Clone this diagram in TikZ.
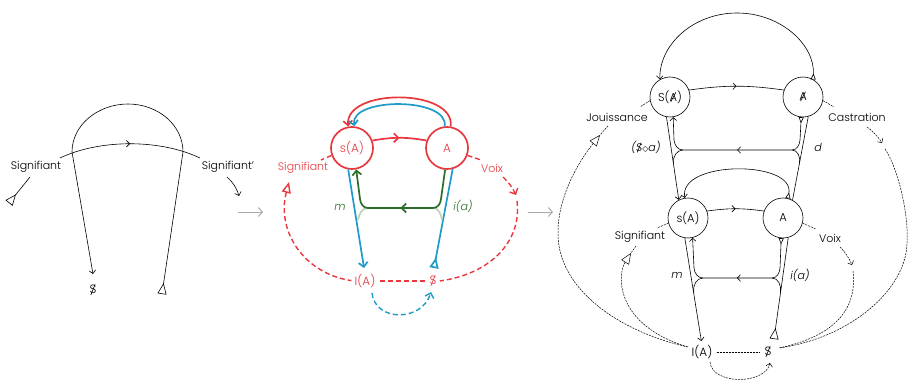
\documentclass[tikz,border=0pt]{standalone}
\usepackage{fontspec}
\setmainfont{Poppins}[UprightFont=* Light,ItalicFont=* Light Italic]
\newfontfamily\dvfont{DejaVu Sans}
\usetikzlibrary{arrows.meta,decorations.markings}
\definecolor{cred}{HTML}{E8383D}
\definecolor{cblue}{HTML}{1E9BC8}
\definecolor{cgreen}{HTML}{2B6E2B}
\definecolor{cgreenl}{HTML}{BCD3B7}
\definecolor{cgray}{HTML}{AAAAAA}
\newcommand\barS{\ooalign{S\cr\hidewidth\raisebox{-0.12em}{\rotatebox{68}{\rule{0.95em}{0.055em}}}\hidewidth\cr}}
\newcommand\barA{\ooalign{A\cr\hidewidth\raisebox{-0.05em}{\rotatebox{62}{\rule{0.92em}{0.055em}}}\hidewidth\cr}}
\tikzset{
  vv/.tip={Straight Barb[length=3.2pt,width=6.5pt]},
  vvb/.tip={Straight Barb[length=4.5pt,width=9pt]},
  tri/.tip={Triangle[open,length=11pt,width=9pt]},
  trir/.tip={Triangle[open,reversed,length=11pt,width=9pt]},
  trism/.tip={Triangle[open,reversed,length=6pt,width=5pt]},
  trib/.tip={Triangle[open,length=11pt,width=9pt]},
  trirb/.tip={Triangle[open,reversed,length=11pt,width=9pt]},
  midarr/.style={postaction={decorate},decoration={markings,mark=at position 0.5 with {\arrow{vv}}}},
  midarrb/.style={postaction={decorate},decoration={markings,mark=at position 0.5 with {\arrow{vvb}}}},
  lbl/.style={inner sep=0pt,font=\fontsize{11}{12}\selectfont},
  lblit/.style={inner sep=0pt,font=\fontsize{11}{12}\selectfont\itshape},
  cthree/.style={circle,draw,minimum size=40pt,inner sep=0pt,font=\fontsize{11.5}{12}\selectfont},
  ctwo/.style={circle,draw=cred,text=cred,line width=1.7pt,minimum size=42pt,inner sep=0pt,font=\fontsize{12}{12}\selectfont},
  bold/.style={line width=1.7pt},
  dsh/.style={dash pattern=on 2pt off 1pt,line width=0.5pt},
  dshb/.style={dash pattern=on 5pt off 3pt,line width=1.4pt},
  grayarr/.style={cgray,line width=1pt,-{Straight Barb[length=4pt,width=9pt]}}
}
\begin{document}
\begin{tikzpicture}[x=1pt,y=-1pt,line width=0.6pt]
\useasboundingbox (0,0) rectangle (909,382);
% ---------- panel 1 ----------
\node[lbl] (sig1) at (36,167) {Signifiant};
\node[lbl] (sig1p) at (228,167) {Signifiant'};
\node[lbl,font=\fontsize{12}{12}\selectfont] (S1) at (93,290) {\barS};
\coordinate (t1) at (162,294);
\coordinate (a1) at (93,274);
\draw[{trir}-{vv}] (t1) -- (183,152) .. controls (183,125) and (158,104) .. (128,104)
   .. controls (98,104) and (72,125) .. (72,152) -- (a1);
\coordinate (h1a) at (60,158);
\coordinate (h1b) at (200,158);
\draw[midarr] (h1a) .. controls (100,139) and (160,139) .. (h1b);
\coordinate (t1b) at (9,203);
\draw[{trir}-] (t1b) -- (30,177);
\coordinate (a1b) at (239,196);
\draw[-{vv}] (227,177) to[bend left=15] (a1b);
\coordinate (g1a) at (238,212); \coordinate (g1b) at (263,212);
\draw[grayarr] (g1a) -- (g1b);
\coordinate (g2a) at (528,212); \coordinate (g2b) at (553,212);
\draw[grayarr] (g2a) -- (g2b);
% ---------- panel 2 ----------
\node[ctwo] (sA2) at (352,148) {s(A)};
\node[ctwo] (A2) at (447,148) {A};
\node[lbl,text=cred] (sig2) at (303,168) {Signifiant};
\node[lbl,text=cred] (voix2) at (492,168) {Voix};
\node[lbl,text=cred,font=\fontsize{12}{12}\selectfont] (IA2) at (365,281) {I(A)};
\node[lbl,text=cred,font=\fontsize{12}{12}\selectfont] (S2) at (433,281) {\barS};
\node[lblit,text=cgreen] (m2) at (340,207) {m};
\node[lblit,text=cgreen] (ia2) at (463,206) {i(a)};
\draw[cred,bold,midarrb] (sA2.20) to[bend left=10] (A2.160);
\draw[cred,bold,-{vvb}] (A2.80) .. controls (455,88) and (345,88) .. (sA2.100);
\draw[cblue,bold,-{vvb}] (A2.96) .. controls (449,97) and (350,97) .. (sA2.84);
\draw[cblue,bold,-{vvb},shorten >=6pt] (sA2.260) -- (IA2.north);
\coordinate (t2) at (434,268);
\draw[cblue,bold,{trirb}-] (t2) -- (A2.285);
\draw[cgreenl,bold] (368,208) to[out=180,in=80] (358,220);
\draw[cgreenl,bold] (433,208) to[out=0,in=100] (442,220);
\draw[cgreen,bold,midarrb,-{vvb}] (A2.265) -- (441,199) to[out=-95,in=0] (433,208) -- (368,208)
   to[out=180,in=-85] (360,199) -- (sA2.281);
\draw[cred,dshb] (sA2.200) -- (321,160);
\coordinate (t2b) at (289,182);
\draw[cred,dshb,{trib}-,shorten >=3pt] (t2b) .. controls (276,232) and (305,274) .. (IA2.west);
\draw[cred,dshb,shorten <=4pt,shorten >=4pt] (IA2.east) -- (S2.west);
\draw[cred,dshb] (A2.340) -- (481,160);
\coordinate (a2v) at (516,195);
\draw[cred,dshb,-{vvb}] (503,177) to[bend left=10] (a2v);
\draw[cred,dshb] (517,201) .. controls (522,242) and (490,274) .. ([xshift=3pt]S2.east);
\coordinate (a2b) at (431,292);
\draw[cblue,dshb,-{vvb}] ([shift={(7pt,-5pt)}]IA2.south) .. controls (375,322) and (422,322) .. (a2b);
% ---------- panel 3 ----------
\node[cthree] (SAb) at (670,97) {S(\barA)};
\node[cthree] (Ab) at (803,97) {\barA};
\node[cthree] (sA3) at (688,218) {s(A)};
\node[cthree] (A3) at (783,218) {A};
\node[lbl] (jou) at (617,117) {Jouissance};
\node[lbl] (cas) at (857,117) {Castration};
\node[lbl] (sig3) at (640,237) {Signifiant};
\node[lbl] (voix3) at (830,238) {Voix};
\node[lbl,font=\fontsize{12}{12}\selectfont] (IA3) at (702,352) {I(A)};
\node[lbl,font=\fontsize{12}{12}\selectfont] (S3) at (768,352) {\barS};
\node[lblit] (sa3) at (646,147) {(\barS{\dvfont\fontsize{8}{10}\selectfont ◇}a)};
\node[lblit] (d3) at (818,147) {d};
\node[lblit] (m3) at (677,275) {m};
\node[lblit] (ia3) at (800,275) {i(a)};
% outer arch
\draw[{trism}-{vv}] (Ab.60) .. controls (815,45) and (781,13) .. (737,13)
   .. controls (693,13) and (659,45) .. (SAb.120);
\draw[midarr] (SAb.20) to[bend left=8] (Ab.160);
\draw[-{vv}] (SAb.260) -- (sA3.117);
\draw[{trism}-{vv},midarr] (Ab.265) -- (800,140) to[out=-95,in=0] (792,150) -- (683,150)
   to[out=180,in=-85] (674,140) -- (SAb.279);
\draw (683,150) to[out=180,in=98] (673.5,163);
\draw (792,150) to[out=0,in=80] (799.5,163);
\draw (Ab.285) -- (A3.62);
% inner arch
\draw[{trism}-{vv}] (A3.76) .. controls (795,160) and (678,160) .. (sA3.99);
\draw[midarr] (sA3.20) to[bend left=8] (A3.160);
\draw[-{vv},shorten >=4pt] (sA3.261) -- (IA3.north);
\draw[{trism}-{vv},midarr] (A3.265) -- (780,268) to[out=-95,in=0] (772,278) -- (703,278)
   to[out=180,in=-85] (694,268) -- (sA3.283);
\draw (703,278) to[out=180,in=99] (693.7,292);
\draw (772,278) to[out=0,in=82] (780.5,292);
\coordinate (t3) at (774,339);
\draw[{trir}-] (t3) -- (A3.285);
% dashed
\draw[dsh] (SAb.190) -- (640,107);
\draw[dsh] (608,126) -- (600,135);
\coordinate (e3a) at (688,347);
\draw[dsh,{tri}-] (600,135) .. controls (572,170) and (557,205) .. (558,235)
   .. controls (559,290) and (620,332) .. (e3a);
\draw[dsh] (sA3.195) -- (657,228);
\draw[dsh] (636,246) -- (631,253);
\draw[dsh,{tri}-] (631,253) .. controls (617,275) and (615,325) .. (e3a);
\draw[dsh] (Ab.350) -- (834,107);
\coordinate (a3c) at (882,143);
\draw[dsh,-{vv}] (867,127) to[bend left=10] (a3c);
\coordinate (e3b) at (779,348);
\draw[dsh] (885,149) .. controls (898,168) and (909,215) .. (907,243)
   .. controls (906,290) and (850,338) .. (e3b);
\draw[dsh] (A3.345) -- (816,229);
\coordinate (a3v) at (852,265);
\draw[dsh,-{vv}] (840,247) to[bend left=10] (a3v);
\draw[dsh] (853,271) .. controls (857,305) and (840,335) .. (e3b);
\draw[dsh,shorten <=4pt,shorten >=4pt] (IA3.east) -- (S3.west);
\coordinate (a3l) at (770,363);
\draw[dsh,-{vv}] (710,362) .. controls (712,385) and (765,385) .. (a3l);
\end{tikzpicture}
\end{document}
